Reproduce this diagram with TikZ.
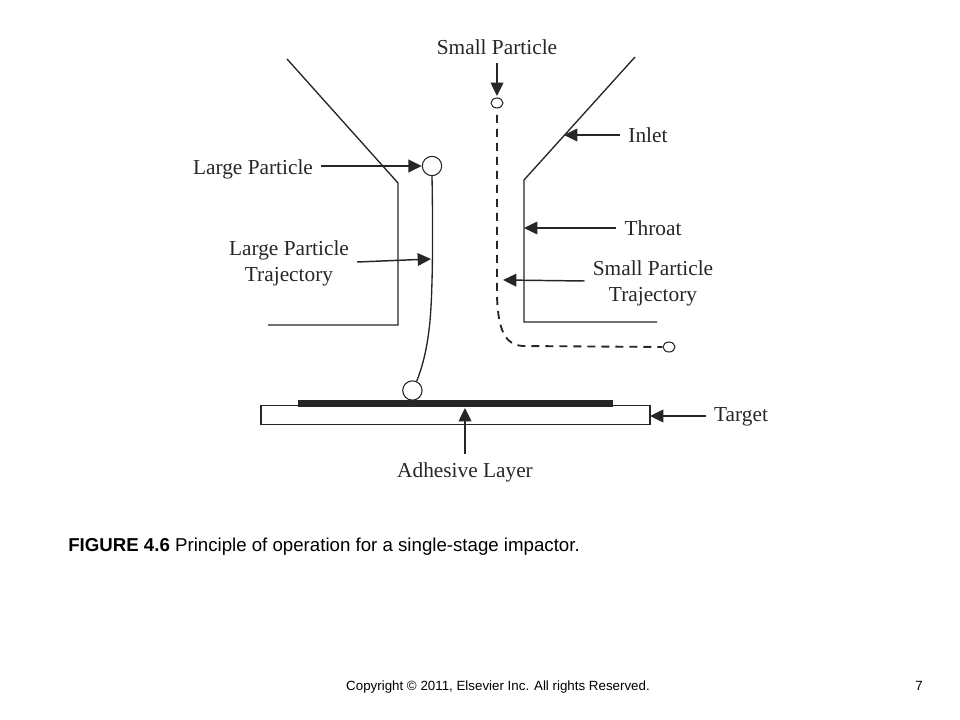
\documentclass[tikz,border=0pt]{standalone}
\usepackage{fontspec}
\setmainfont{Liberation Serif}
\newfontfamily\capfont{Liberation Sans}
\usetikzlibrary{arrows.meta,shapes.geometric}
\definecolor{ink}{HTML}{262626}
\tikzset{
  lbl/.style={font=\fontsize{16}{19.5}\selectfont,text=ink,align=center,inner sep=6pt},
  wall/.style={draw=ink,line width=1pt},
  arr/.style={draw=ink,line width=1.1pt,-{Triangle[length=10pt,width=9.5pt]}},
  bigp/.style={circle,draw=ink,line width=0.8pt,fill=white,minimum size=14.5pt,inner sep=0pt},
  smallp/.style={ellipse,draw=ink,line width=0.8pt,fill=white,minimum width=9pt,minimum height=7.5pt,inner sep=0pt},
  traj/.style={draw=ink,line width=1pt},
  dtraj/.style={draw=ink,line width=1.4pt,dash pattern=on 6pt off 4.5pt},
  capt/.style={font=\capfont\fontsize{14}{16}\selectfont,text=black,inner sep=0pt},
  foot/.style={font=\capfont\fontsize{10}{12}\selectfont,text=black,inner sep=0pt}
}
\begin{document}
\begin{tikzpicture}[x=0.75pt,y=-0.75pt]
\useasboundingbox (0,0) rectangle (960,720);
% walls
\draw[wall] (287,59) -- (398,183) -- (398,325) -- (268,325);
\draw[wall] (635,57) -- (524,180) -- (524,322) -- (657,322);
% target and adhesive
\node[draw=ink,line width=0.9pt,fill=white,minimum width=291.75pt,minimum height=14.25pt,inner sep=0pt] (target) at (455.5,415) {};
\node[fill=ink,minimum width=236pt,minimum height=5.3pt,inner sep=0pt] (adh) at (455.5,403.5) {};
% particles
\node[bigp] (big) at (432,166) {};
\node[bigp] (bot) at (412.4,390.5) {};
\node[smallp] (sp) at (497,103) {};
\node[smallp] (se) at (669,347) {};
% trajectories
\draw[traj] (big.south) .. controls (433,230) and (433,300) .. (429,330) .. controls (426,355) and (421,370) .. (bot.65);
\coordinate (dstart) at (497,115);
\draw[dtraj] (dstart) -- (497,296) .. controls (498,330) and (505,345) .. (523,346) -- (se.west);
% labels
\node[lbl] (lsp) at (497,47) {Small Particle};
\node[lbl] (linlet) at (648,135) {Inlet};
\node[lbl] (llp) at (253,169) {Large Particle};
\node[lbl] (llt) at (289,263) {Large Particle\\Trajectory};
\node[lbl] (lthroat) at (653,228) {Throat};
\node[lbl] (lst) at (653,283) {Small Particle\\Trajectory};
\node[lbl] (ltarget) at (741,417) {Target};
\node[lbl] (ladh) at (465,472) {Adhesive Layer};
% arrow tips
\coordinate (tinlet) at (564,135);
\coordinate (tthroat) at (524,228);
\coordinate (tlt) at (431,259);
\coordinate (tst) at (503,280);
\coordinate (tsp) at (497,96);
\coordinate (tadh) at (465,408);
\coordinate (ttarget) at (650,416);
% arrows
\draw[arr] (lsp.south) -- (tsp);
\draw[arr] (linlet.west) -- (tinlet);
\draw[arr] ([yshift=2.25pt]llp.east) -- (big.west);
\draw[arr] ([yshift=0.75pt]llt.east) -- (tlt);
\draw[arr] (lthroat.west) -- (tthroat);
\draw[arr] ([yshift=1.5pt]lst.west) -- (tst);
\draw[arr] ([yshift=0.75pt]ltarget.west) -- (ttarget);
\draw[arr] (ladh.north) -- (tadh);
% caption
\node[capt,anchor=base west] (cap) at (68,551) {\textbf{FIGURE 4.6} Principle of operation for a single-stage impactor.};
\node[foot,anchor=base] (copy) at (498,690) {Copyright © 2011, Elsevier Inc. All rights Reserved.};
\node[foot,anchor=base] (pg) at (919,690) {7};
\end{tikzpicture}
\end{document}
